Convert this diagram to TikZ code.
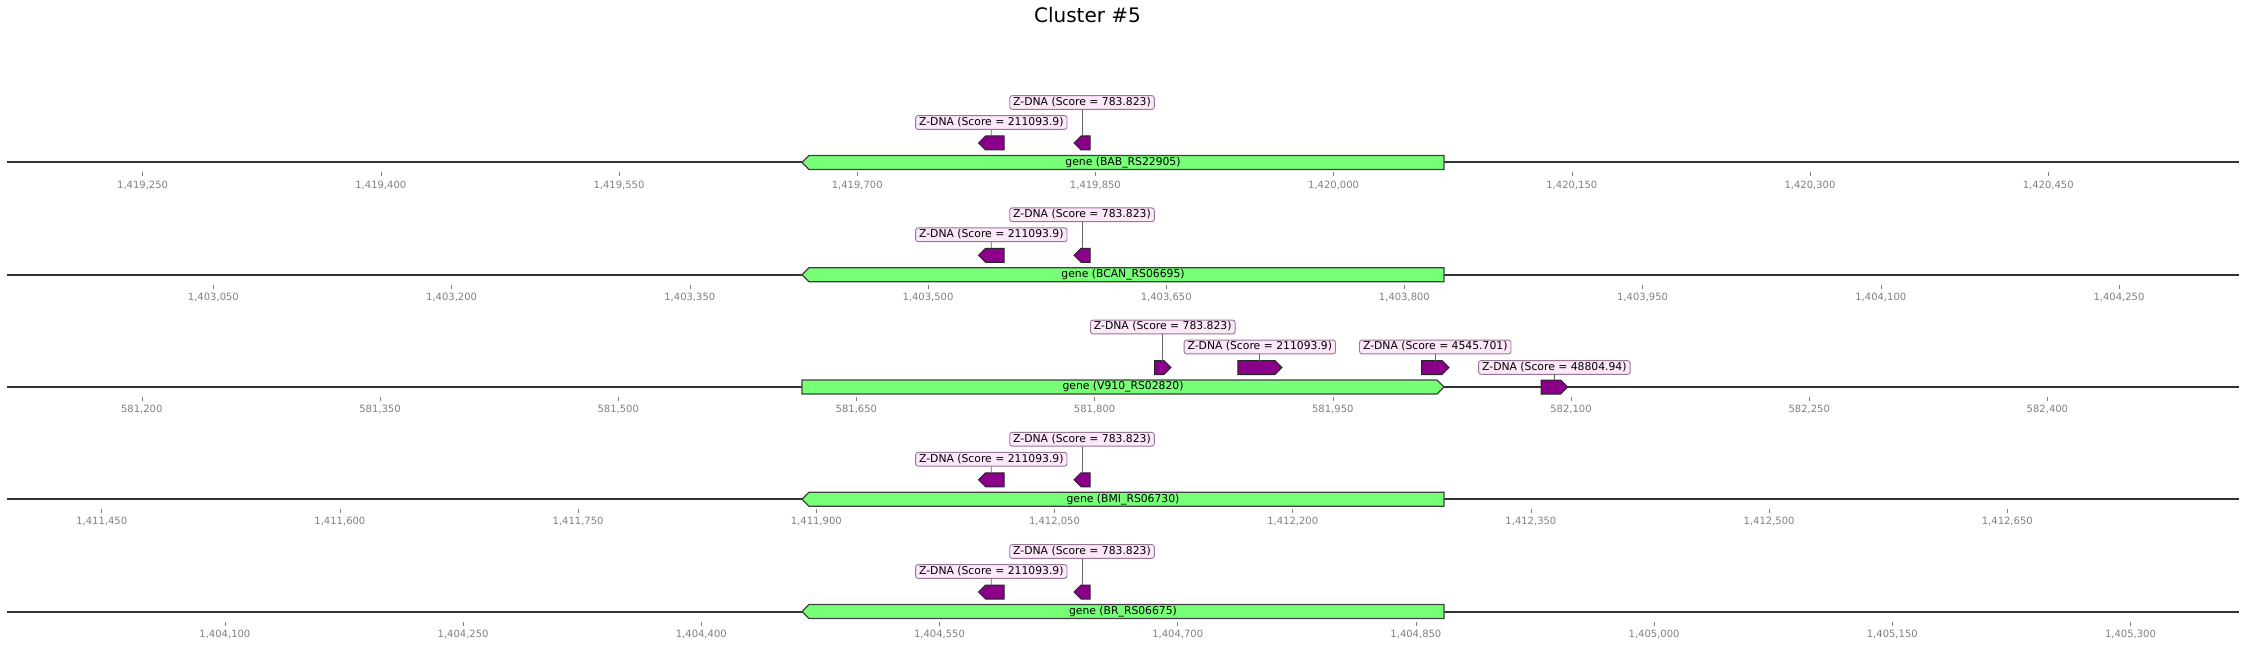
\documentclass[tikz,border=0pt]{standalone}
\usepackage{fontspec}
\setmainfont{DejaVu Sans}
\usetikzlibrary{positioning}
\definecolor{genegreen}{RGB}{120,255,120}
\definecolor{zdnapurple}{RGB}{139,0,139}
\definecolor{zdnafill}{RGB}{253,232,250}
\definecolor{zdnaedge}{RGB}{150,120,150}
\definecolor{axisgray}{RGB}{128,128,128}
\tikzset{
  genebox/.style={draw=black!75,fill=genegreen,line width=1.3pt},
  zdnabox/.style={draw=black!85,fill=zdnapurple,line width=1pt},
  genetext/.style={inner sep=0pt,font=\fontsize{10.8}{12}\selectfont},
  zlabel/.style={
    % the box
    draw=zdnaedge,fill=zdnafill,rounded corners=2.5pt,line width=0.9pt,
    inner xsep=3.5pt,inner ysep=1.5pt,text height=8.2pt,text depth=2.6pt,
    % the rest
    font=\fontsize{10.8}{12}\selectfont
  },
  pin line/.style={draw=black!60,line width=0.8pt},
  track/.style={draw=black!80,line width=2pt},
  ticklabel/.style={text=axisgray,inner sep=0pt,font=\fontsize{10}{11}\selectfont},
  tickmark/.style={draw=axisgray,line width=0.6pt}
}

% pointed boxes: name, left x, right x, centre y, style
\newcommand\revfeat[5]{%
  \draw[#5] (#3,#4-7) -- (#2+7,#4-7) -- (#2,#4) -- (#2+7,#4+7) -- (#3,#4+7) -- cycle;
  \coordinate (#1) at ({(#2+#3)/2},#4-7);}
\newcommand\fwdfeat[5]{%
  \draw[#5] (#2,#4-7) -- (#3-7,#4-7) -- (#3,#4) -- (#3-7,#4+7) -- (#2,#4+7) -- cycle;
  \coordinate (#1) at ({(#2+#3)/2},#4-7);}

% axis ticks: id, first tick x, first tick value
\newcommand\ruler[3]{%
  \foreach \k in {0,...,8}{%
    \pgfmathsetmacro\tx{#2+238.2*\k}
    \edef\tv{\the\numexpr#3+150*\k\relax}
    \draw[tickmark] (\tx,10) -- (\tx,14);
    \node[ticklabel] (#1t\k) at (\tx,22.5)
      {\pgfmathprintnumber[fixed,precision=0,set thousands separator={,},assume math mode=true]{\tv}};
  }}

% the four tracks that look alike: id, baseline y, first tick x, first tick value, locus
\newcommand\sametrack[5]{%
  \begin{scope}[shift={(0,#2)}]
    \draw[track] (7,0) coordinate (#1l) -- (2239,0) coordinate (#1r);
    \ruler{#1}{#3}{#4}
    \revfeat{#1gene}{802}{1444}{0}{genebox}
    \node[genetext] (#1name) at (1123,0) {gene (#5)};
    \revfeat{#1a}{978.5}{1004}{-19.5}{zdnabox}
    \revfeat{#1b}{1074}{1090}{-19.5}{zdnabox}
    \node[zlabel] (#1la) at (991.3,-40) {Z-DNA (Score = 211093.9)};
    \node[zlabel] (#1lb) at (1082,-60) {Z-DNA (Score = 783.823)};
    \draw[pin line] (#1la) -- (#1a);
    \draw[pin line] (#1lb) -- (#1b);
  \end{scope}}

\begin{document}
\begin{tikzpicture}[x=1pt,y=-1pt]
  \path[fill=white,use as bounding box] (0,0) rectangle (2246,647);
  \node (title) at (1087.5,15.5) {\fontsize{20}{24}\selectfont Cluster \#5};

  \sametrack{bab}{162.5}{142.6}{1419250}{BAB\_RS22905}
  \sametrack{bcan}{274.75}{213.4}{1403050}{BCAN\_RS06695}

  % the third track
  \begin{scope}[shift={(0,387)}]
    \draw[track] (7,0) coordinate (vl) -- (2239,0) coordinate (vr);
    \ruler{v}{141.8}{581200}
    \fwdfeat{vgene}{802}{1444}{0}{genebox}
    \node[genetext] (vname) at (1123,0) {gene (V910\_RS02820)};
    \fwdfeat{va}{1154.7}{1170.8}{-19.5}{zdnabox}
    \fwdfeat{vb}{1237.8}{1281.8}{-19.5}{zdnabox}
    \fwdfeat{vc}{1421.5}{1449}{-19.5}{zdnabox}
    \fwdfeat{vd}{1541}{1567.7}{0}{zdnabox}
    \node[zlabel] (vla) at (1162.75,-60) {Z-DNA (Score = 783.823)};
    \node[zlabel] (vlb) at (1259.8,-40) {Z-DNA (Score = 211093.9)};
    \node[zlabel] (vlc) at (1435.25,-40) {Z-DNA (Score = 4545.701)};
    \node[zlabel] (vld) at (1554.35,-19.5) {Z-DNA (Score = 48804.94)};
    \draw[pin line] (vla) -- (va);
    \draw[pin line] (vlb) -- (vb);
    \draw[pin line] (vlc) -- (vc);
    \draw[pin line] (vld) -- (vd);
  \end{scope}

  \sametrack{bmi}{499.25}{101.7}{1411450}{BMI\_RS06730}
  \sametrack{br}{611.5}{224.9}{1404100}{BR\_RS06675}
\end{tikzpicture}
\end{document}
